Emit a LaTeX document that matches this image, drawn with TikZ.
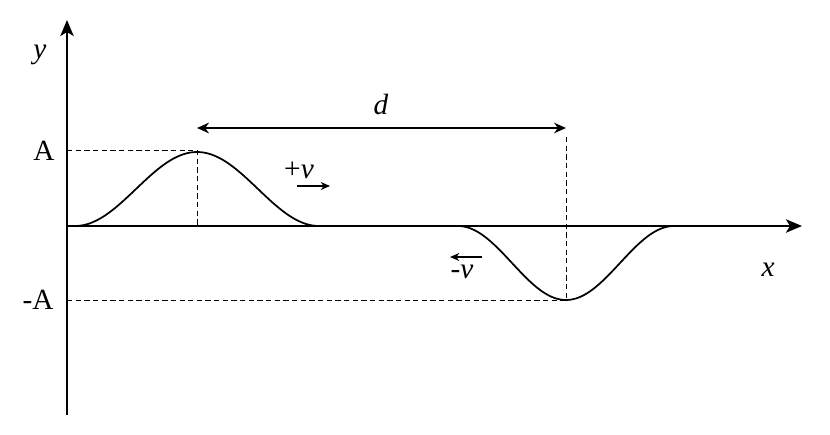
\documentclass[tikz,border=0pt]{standalone}
\usepackage{fontspec}
\setmainfont{Liberation Serif}
\usetikzlibrary{arrows.meta}
\begin{document}
\begin{tikzpicture}[x=0.0264cm,y=-0.0264cm,
  axis/.style={line width=1.8pt,-{Stealth[length=12pt,width=10pt,inset=3pt]}},
  guide/.style={line width=0.5pt,dash pattern=on 4pt off 2.5pt},
  curve/.style={line width=1.3pt},
  lab/.style={font=\fontsize{22}{26}\selectfont,inner sep=0pt},
  sarr/.style={line width=1pt,-{Stealth[length=7pt,width=6pt]}}]
\useasboundingbox (0,0) rectangle (830,435);
\coordinate (o) at (67,226);
\coordinate (ytop) at (67,20);
\coordinate (ybot) at (67,415);
\coordinate (xend) at (802,226);
\coordinate (peak) at (197,150);
\coordinate (trough) at (566,300);
\draw[axis] (ybot) -- (ytop);
\draw[axis] (o) -- (xend);
\draw[curve] plot[domain=75:319,samples=80,smooth] (\x,{226-74*(1+cos((\x-197)/244*360))/2});
\draw[curve] plot[domain=458:674,samples=80,smooth] (\x,{226+74*(1+cos((\x-566)/216*360))/2});
\draw[guide] (67,150) -- (peak);
\draw[guide] (peak) -- (197,226);
\draw[guide] (67,300) -- (trough);
\draw[guide] (566,137) -- (trough);
\coordinate (dl) at (197,128);
\coordinate (dr) at (566,128);
\draw[line width=1.3pt,{Stealth[length=9pt,width=8pt]}-{Stealth[length=9pt,width=8pt]}] (dl) -- (dr);
\node[lab] (d) at (381,104) {\itshape d};
\node[lab] (A) at (44,151) {A};
\node[lab] (mA) at (38,300) {-A};
\node[lab] (y) at (40,55) {\itshape y};
\node[lab] (x) at (768,270) {\itshape x};
\node[lab] (pv) at (299,170) {+\itshape v};
\coordinate (pa1) at (297,186); \coordinate (pa2) at (330,186);
\draw[sarr] (pa1) -- (pa2);
\node[lab] (mv) at (462,272) {-\itshape v};
\coordinate (ma1) at (482,257); \coordinate (ma2) at (450,257);
\draw[sarr] (ma1) -- (ma2);
\end{tikzpicture}
\end{document}
